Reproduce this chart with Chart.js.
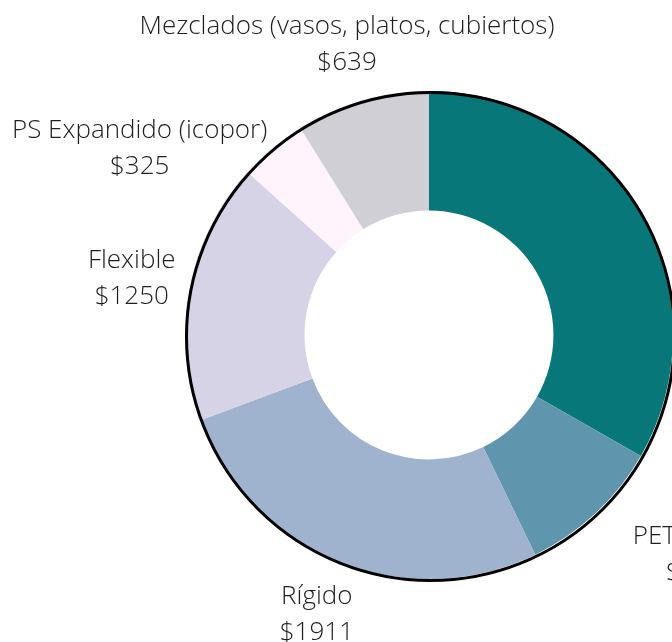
<!DOCTYPE html>
<html>
<head>
<meta charset="utf-8">
<script src="https://cdn.jsdelivr.net/npm/chart.js@4.4.1/dist/chart.umd.min.js"></script>
<style>
html, body { margin: 0; padding: 0; background: #fff; overflow: hidden; }
#wrap { position: relative; width: 858px; height: 670px; }
</style>
</head>
<body>
<div id="wrap"><canvas id="myChart"></canvas></div>
<script>
var categories = ['Otros', 'PET (otros)', 'Rígido', 'Flexible', 'PS Expandido (icopor)', 'Mezclados (vasos, platos, cubiertos)'];
var values = [2400, 690, 1911, 1250, 325, 639];
var colors = ['#07777a', '#5f96ad', '#9fb3ce', '#d6d3e6', '#fff4fc', '#d1cfd6'];
// small nudges (px) on top of the generic outside placement
var labelNudge = [[25, 0], [25, -8], [-7, 0], [4, -8], [4, 50], [-10, -2]];

function ramp(v) {
    return Math.sign(v) * Math.min(1, Math.max(0, (Math.abs(v) - 0.3) / 0.35));
}

var outsideLabels = {
    id: 'outsideLabels',
    afterDatasetsDraw: function(chart) {
        var ctx = chart.ctx;
        var arcs = chart.getDatasetMeta(0).data;
        var lh = 36;
        ctx.save();
        // outline ring, slightly offset like the original
        var a0 = arcs[0].getProps(['x', 'y', 'outerRadius']);
        ctx.beginPath();
        ctx.arc(a0.x + 1.5, a0.y + 1.5, a0.outerRadius, 0, Math.PI * 2);
        ctx.lineWidth = 3;
        ctx.strokeStyle = '#000';
        ctx.stroke();

        ctx.font = '300 26px "Open Sans"';
        ctx.fillStyle = '#1e1e1e';
        ctx.textAlign = 'center';
        ctx.textBaseline = 'middle';
        arcs.forEach(function(arc, i) {
            var p = arc.getProps(['x', 'y', 'startAngle', 'endAngle', 'outerRadius']);
            var mid = (p.startAngle + p.endAngle) / 2;
            var dx = Math.cos(mid), dy = Math.sin(mid);
            var lines = [categories[i], '$' + values[i]];
            var w = Math.max.apply(null, lines.map(function(l) { return ctx.measureText(l).width; }));
            var h = lines.length * lh;
            var d = p.outerRadius + 18;
            var cx = p.x + dx * d + w / 2 * ramp(dx) + labelNudge[i][0];
            var cy = p.y + dy * d + h / 2 * ramp(dy) + labelNudge[i][1];
            lines.forEach(function(l, j) {
                ctx.fillText(l, cx, cy - h / 2 + lh / 2 + j * lh);
            });
        });
        ctx.restore();
    }
};

var ctx = document.getElementById('myChart');
var myChart = new Chart(ctx, {
    type: 'doughnut',
    data: {
        labels: categories,
        datasets: [{
            data: values,
            backgroundColor: colors,
            borderWidth: 0
        }]
    },
    options: {
        responsive: true,
        maintainAspectRatio: false,
        animation: false,
        cutout: '51%',
        layout: {
            padding: { top: 91, bottom: 91, left: 185, right: 185 }
        },
        plugins: {
            legend: { display: false },
            tooltip: { enabled: false }
        }
    },
    plugins: [outsideLabels]
});
</script>
</body>
</html>
